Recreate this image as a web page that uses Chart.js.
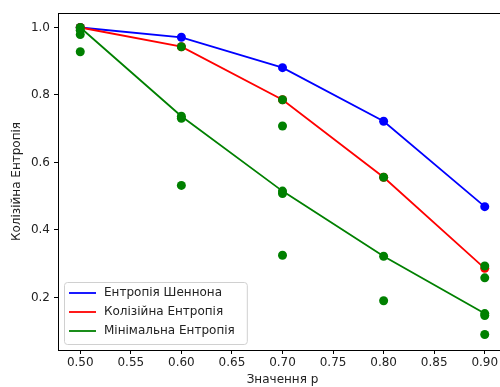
<!DOCTYPE html>
<html>
<head>
<meta charset="utf-8">
<script src="https://cdn.jsdelivr.net/npm/chart.js@4.4.1/dist/chart.umd.min.js"></script>
<style>
  html, body { margin: 0; padding: 0; background: #fff; }
  #wrap { width: 500px; height: 387px; overflow: hidden; }
</style>
</head>
<body>
<div id="wrap"><canvas id="chart" width="512" height="387"></canvas></div>
<script>
// values
const pValues = [0.5, 0.6, 0.7, 0.8, 0.9];
const shannon = [1.0, 0.971, 0.881, 0.722, 0.469];
const collision = [1.0, 0.943, 0.786, 0.556, 0.286];
const minEntropy = [1.0, 0.737, 0.515, 0.322, 0.152];

// extra green points
const greenX = [0.5, 0.5, 0.5, 0.5, 0.6, 0.6, 0.6, 0.6, 0.7, 0.7, 0.7, 0.7, 0.7, 0.8, 0.8, 0.8, 0.9, 0.9, 0.9, 0.9, 0.9];
const greenY = [1.0, 0.992, 0.979, 0.928, 0.943, 0.737, 0.731, 0.532, 0.786, 0.708, 0.515, 0.508, 0.325, 0.556, 0.322, 0.19, 0.293, 0.258, 0.152, 0.146, 0.09];

const xTicks = [0.5, 0.55, 0.6, 0.65, 0.7, 0.75, 0.8, 0.85, 0.9];
const yTicks = [0.2, 0.4, 0.6, 0.8, 1.0];
const labels = ["Ентропія Шеннона", "Колізійна Ентропія", "Мінімальна Ентропія"];

const FONT = "'DejaVu Sans', sans-serif";

function pts(xs, ys) {
  return xs.map((x, i) => ({ x: x, y: ys[i] }));
}

function lineSet(label, data, color, order, legendPos) {
  return {
    type: "line", label: label, data: pts(pValues, data), legendPos: legendPos,
    borderColor: color, backgroundColor: color, borderWidth: 1.8,
    pointRadius: 0, showLine: true, order: order
  };
}

function dotSet(xs, ys, color, order) {
  return {
    type: "scatter", data: pts(xs, ys), borderColor: color, backgroundColor: color,
    pointRadius: 4.5, pointBorderWidth: 0, order: order
  };
}

// top spine
const frame = {
  id: "frame",
  afterDraw(chart) {
    const a = chart.chartArea, ctx = chart.ctx;
    ctx.save();
    ctx.strokeStyle = "#000";
    ctx.lineWidth = 1;
    ctx.beginPath();
    ctx.moveTo(a.left, a.top + 0.5);
    ctx.lineTo(a.right + 20, a.top + 0.5);
    ctx.stroke();
    ctx.restore();
  }
};

// legend inside the plot, lower left
const innerLegend = {
  id: "innerLegend",
  afterDraw(chart) {
    const a = chart.chartArea, ctx = chart.ctx;
    const items = chart.data.datasets.filter(d => d.legendPos !== undefined)
      .sort((p, q) => p.legendPos - q.legendPos);
    ctx.save();
    ctx.font = "12px " + FONT;
    let w = 0;
    items.forEach(d => { w = Math.max(w, ctx.measureText(d.label).width); });
    const x0 = a.left + 6, rowH = 19;
    const boxW = w + 52, boxH = items.length * rowH + 5;
    const y0 = a.bottom - 6 - boxH;
    ctx.fillStyle = "rgba(255,255,255,0.8)";
    ctx.strokeStyle = "#d0d0d0";
    ctx.lineWidth = 1;
    ctx.beginPath();
    ctx.roundRect(x0 + 0.5, y0 + 0.5, boxW, boxH, 3);
    ctx.fill();
    ctx.stroke();
    ctx.textBaseline = "middle";
    items.forEach((d, i) => {
      const cy = y0 + 11 + i * rowH;
      ctx.strokeStyle = d.borderColor;
      ctx.lineWidth = 1.8;
      ctx.beginPath();
      ctx.moveTo(x0 + 5, cy);
      ctx.lineTo(x0 + 32, cy);
      ctx.stroke();
      ctx.fillStyle = "#222";
      ctx.fillText(d.label, x0 + 40, cy);
    });
    ctx.restore();
  }
};

new Chart(document.getElementById("chart"), {
  type: "scatter",
  data: {
    datasets: [
      dotSet(greenX, greenY, "#008000", 0),
      lineSet(labels[2], minEntropy, "#008000", 1, 2),
      dotSet(pValues, collision, "#ff0000", 2),
      lineSet(labels[1], collision, "#ff0000", 3, 1),
      dotSet(pValues, shannon, "#0000ff", 4),
      lineSet(labels[0], shannon, "#0000ff", 5, 0)
    ]
  },
  options: {
    responsive: false,
    animation: false,
    layout: { padding: { top: 13, right: 5, left: 0, bottom: 0 } },
    plugins: { legend: { display: false }, tooltip: { enabled: false } },
    scales: {
      x: {
        type: "linear", min: 0.478, max: 0.922,
        afterBuildTicks: s => { s.ticks = xTicks.map(v => ({ value: v })); },
        afterFit: s => { s.height = 37; },
        grid: { drawOnChartArea: false, color: "#000", tickLength: 4 },
        border: { color: "#000", width: 1 },
        ticks: { color: "#222", font: { family: FONT, size: 12 }, padding: 2,
                 maxRotation: 0, callback: v => v.toFixed(2) },
        title: { display: true, text: "Значення p", color: "#222",
                 font: { family: FONT, size: 12 }, padding: { top: 0, bottom: 0 } }
      },
      y: {
        type: "linear", min: 0.044, max: 1.043,
        afterBuildTicks: s => { s.ticks = yTicks.map(v => ({ value: v })); },
        afterFit: s => { s.width = 58; },
        grid: { drawOnChartArea: false, color: "#000", tickLength: 4 },
        border: { color: "#000", width: 1 },
        ticks: { color: "#222", font: { family: FONT, size: 12 }, padding: 4,
                 callback: v => v.toFixed(1) },
        title: { display: true, text: "Колізійна Ентропія", color: "#222",
                 font: { family: FONT, size: 12 }, padding: { top: 10, bottom: 4 } }
      }
    }
  },
  plugins: [frame, innerLegend]
});
</script>
</body>
</html>
